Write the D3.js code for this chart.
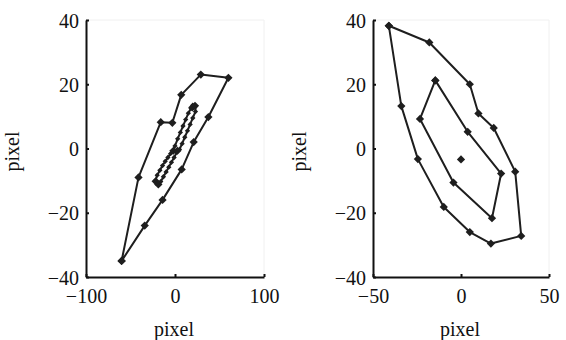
<!DOCTYPE html>
<html>
<head>
<meta charset="utf-8">
<script src="https://cdn.jsdelivr.net/npm/d3@7"></script>
<style>
  body { margin: 0; background: #fff; }
  svg text { font-family: "Liberation Serif", "DejaVu Serif", serif; font-size: 20px; fill: #111; }
</style>
</head>
<body>
<svg id="chart" width="566" height="340"></svg>
<script>
// left panel: outer loop, inner narrow loop (densely sampled), its turning points
const leftOuter = [
  [-60, -35], [-41, -9], [-16, 8.2], [-3, 8], [7, 16.7], [29, 23], [60, 22],
  [37.5, 9.8], [21, 2], [7.5, -6.5], [-14, -16], [-34, -24], [-60, -35]
];
const leftInner = [
  [-22, -10], [-20, -8.3], [-17, -6.8], [-14, -5.3], [-11, -4], [-8, -2.8], [-5, -1.6],
  [-2.5, -0.8], [0, 0.8], [3, 3], [6, 5], [9, 7], [12, 9], [15, 11], [18, 12.5], [20, 13.5],
  [23, 13.3], [23, 11.5], [20, 9.5], [17, 7.5], [14, 5.5], [11, 3.5], [8, 1.5], [5, -0.3],
  [2, -1.2], [-1, -2.8], [-4, -4.3], [-7, -5.8], [-10, -7.3], [-13, -8.8], [-16, -10.3],
  [-19, -11.2], [-22, -10]
];
const leftInnerTurns = [
  [-21.7, -10.2], [-18.7, -11.2], [-1.8, -0.7], [2.7, -0.7], [19.5, 12.8], [22.5, 13.3]
];
// right panel: outer loop, inner loop, centre point
const rightOuter = [
  [-41, 38.2], [-18, 33], [5, 20], [9.9, 10.9], [18.6, 6.4], [30.8, -7.2],
  [34.2, -27.2], [17, -29.6], [5, -26], [-9.8, -18.2], [-24.5, -3.3],
  [-33.9, 13.2], [-41, 38.2]
];
const rightInner = [
  [-14.6, 21.2], [3.8, 5.2], [22.8, -7.8], [17.6, -21.7], [-4.3, -10.6],
  [-23.3, 9.2], [-14.6, 21.2]
];
const rightCentre = [[0, -3.4]];

const leftXTicks = [-100, 0, 100];
const rightXTicks = [-50, 0, 50];
const yTicks = [-40, -20, 0, 20, 40];
const axisTitle = "pixel";

const svg = d3.select("#chart");
const lineColor = "#1e1e1e";
const serif = '"Liberation Serif", "DejaVu Serif", serif';

const panels = [
  { x0: 86, x1: 264, xDomain: [-100, 100], xTicks: leftXTicks,
    series: [
      { pts: leftOuter, m: 34, line: true },
      { pts: leftInner, m: 14, line: true },
      { pts: leftInnerTurns, m: 34, line: false }
    ] },
  { x0: 373, x1: 549, xDomain: [-50, 50], xTicks: rightXTicks,
    series: [
      { pts: rightOuter, m: 34, line: true },
      { pts: rightInner, m: 34, line: true },
      { pts: rightCentre, m: 34, line: false }
    ] }
];
const plotTop = 20, plotBottom = 277;

const fmt = d3.format("");

panels.forEach(p => {
  const x = d3.scaleLinear().domain(p.xDomain).range([p.x0, p.x1]);
  const y = d3.scaleLinear().domain([-40, 40]).range([plotBottom, plotTop]);
  const g = svg.append("g");

  // faint plot-area frame
  g.append("path")
    .attr("d", `M${p.x0},${plotTop}H${p.x1}V${plotBottom}`)
    .attr("fill", "none").attr("stroke", "#f0f0f0").attr("stroke-width", 1);

  const xAxis = g.append("g")
    .attr("transform", `translate(0,${plotBottom})`)
    .call(d3.axisBottom(x).tickValues(p.xTicks).tickSize(-3).tickSizeOuter(0).tickPadding(12).tickFormat(fmt));
  const yAxis = g.append("g")
    .attr("transform", `translate(${p.x0},0)`)
    .call(d3.axisLeft(y).tickValues(yTicks).tickSize(-3).tickSizeOuter(0).tickPadding(7).tickFormat(fmt));

  [xAxis, yAxis].forEach(a => {
    a.attr("font-family", serif).attr("font-size", 20);
    a.select(".domain").attr("stroke", "#111").attr("stroke-width", 2);
    a.selectAll(".tick line").attr("stroke", "#111").attr("stroke-width", 2);
    a.selectAll("text").attr("fill", "#111");
  });
  yAxis.selectAll("text").attr("dy", "0.35em");

  const line = d3.line().x(d => x(d[0])).y(d => y(d[1]));
  p.series.forEach(s => {
    if (s.line) {
      g.append("path")
        .datum(s.pts)
        .attr("d", line)
        .attr("fill", "none")
        .attr("stroke", lineColor)
        .attr("stroke-width", 2)
        .attr("stroke-linejoin", "round");
    }
    const diamond = d3.symbol().type(d3.symbolSquare).size(s.m);
    g.selectAll(null)
      .data(s.pts)
      .enter()
      .append("path")
      .attr("d", diamond)
      .attr("transform", d => `translate(${x(d[0])},${y(d[1])}) rotate(45)`)
      .attr("fill", lineColor);
  });

  // axis titles
  g.append("text")
    .attr("x", (p.x0 + p.x1) / 2 - 1)
    .attr("y", 336)
    .attr("text-anchor", "middle")
    .text(axisTitle);
  g.append("text")
    .attr("transform", `translate(${p.x0 - 67},${(plotTop + plotBottom) / 2 + 3}) rotate(-90)`)
    .attr("text-anchor", "middle")
    .text(axisTitle);
});
</script>
</body>
</html>
